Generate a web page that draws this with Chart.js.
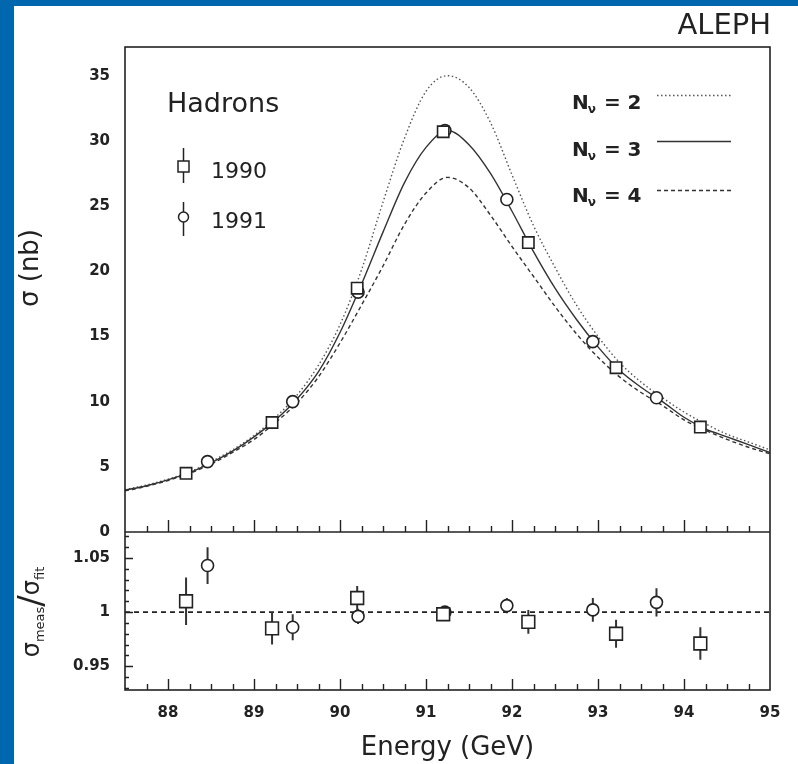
<!DOCTYPE html>
<html>
<head>
<meta charset="utf-8">
<script src="https://cdn.jsdelivr.net/npm/chart.js@4.4.1/dist/chart.umd.min.js"></script>
<style>
  html, body { margin: 0; padding: 0; background: #fff; }
  #wrap { position: relative; width: 798px; height: 764px; overflow: hidden; background: #fff; }
  #chart { position: absolute; left: 0; top: 0; }
  .band { position: absolute; background: #0066ad; }
</style>
</head>
<body>
<div id="wrap">
  <canvas id="chart" width="798" height="764"></canvas>
  <div class="band" style="left:0;top:0;width:798px;height:6px"></div>
  <div class="band" style="left:0;top:0;width:14px;height:764px"></div>
</div>
<script>
// ── Data ──
const xTicks     = [88, 89, 90, 91, 92, 93, 94, 95];
const sigmaTicks = [0, 5, 10, 15, 20, 25, 30, 35];
const ratioTicks = [0.95, 1, 1.05];

// line shapes for N_nu = 2, 3, 4 (nb)
const curveE = [87.5, 87.75, 88, 88.25, 88.5, 88.75, 89, 89.25, 89.5, 89.75, 90, 90.25, 90.5, 90.75, 91, 91.25,
                91.5, 91.75, 92, 92.25, 92.5, 92.75, 93, 93.25, 93.5, 93.75, 94, 94.25, 94.5, 94.75, 95];
const nu2 = [3.25, 3.6, 4.05, 4.6, 5.4, 6.3, 7.4, 8.8, 10.5, 12.8, 15.9, 20.1, 25.3, 30.2, 33.8, 35.0,
             34.1, 31.4, 27.4, 23.5, 20.3, 17.4, 15.0, 13.0, 11.5, 10.3, 9.2, 8.3, 7.5, 6.9, 6.3];
const nu3 = [3.2, 3.55, 4.0, 4.55, 5.3, 6.2, 7.3, 8.6, 10.2, 12.3, 15.3, 19.0, 23.0, 26.8, 29.5, 30.8,
             29.7, 27.5, 24.6, 21.5, 18.7, 16.3, 14.2, 12.4, 11.1, 10.0, 8.8, 7.9, 7.3, 6.7, 6.1];
const nu4 = [3.15, 3.5, 3.95, 4.5, 5.2, 6.1, 7.1, 8.4, 9.9, 11.9, 14.5, 17.4, 20.4, 23.6, 26.0, 27.2,
             26.4, 24.3, 21.9, 19.6, 17.3, 15.2, 13.4, 11.9, 10.7, 9.7, 8.6, 7.8, 7.1, 6.5, 6.0];

// measured points
const e1990     = [88.21, 89.21, 90.20, 91.20, 92.19, 93.21, 94.19];
const sigma1990 = [4.5, 8.4, 18.7, 30.7, 22.2, 12.6, 8.05];
const ratio1990 = [1.010, 0.985, 1.013, 0.998, 0.991, 0.980, 0.971];
const err1990   = [0.022, 0.015, 0.011, 0.003, 0.011, 0.013, 0.015];

const e1991     = [88.46, 89.45, 90.21, 91.22, 91.94, 92.94, 93.68];
const sigma1991 = [5.4, 10.0, 18.4, 30.8, 25.5, 14.6, 10.3];
const ratio1991 = [1.043, 0.986, 0.996, 1.000, 1.006, 1.002, 1.009];
const err1991   = [0.017, 0.012, 0.007, 0.003, 0.007, 0.011, 0.013];

const refE = [87.5, 95];
const refRatio = [1, 1];

// ── helpers ──
const pts  = (xs, ys) => xs.map((x, i) => ({ x, y: ys[i] }));
const bars = (xs, ys, es) => xs.flatMap((x, i) => [
  { x, y: ys[i] - es[i] }, { x, y: ys[i] + es[i] }, { x, y: null },
]);

const INK = '#222';
const FONT = 'DejaVu Sans';

// frame, inside ticks, titles and the two keys
const framePlugin = {
  id: 'frame',
  afterDraw(chart) {
    const { ctx, chartArea: a } = chart;
    const xs = chart.scales.x, ss = chart.scales.sigma, rs = chart.scales.ratio;
    const yMid = ss.getPixelForValue(0);
    ctx.save();
    ctx.strokeStyle = INK;
    ctx.lineWidth = 1.6;
    ctx.strokeRect(a.left, a.top, a.right - a.left, a.bottom - a.top);
    ctx.beginPath(); ctx.moveTo(a.left, yMid); ctx.lineTo(a.right, yMid); ctx.stroke();

    // x ticks (every 0.25 GeV), pointing up from both lower edges
    ctx.lineWidth = 1.4;
    ctx.beginPath();
    for (let k = 1; k < 30; k++) {
      const v = 87.5 + k * 0.25;
      const px = Math.round(xs.getPixelForValue(v)) + 0.5;
      const major = Number.isInteger(v);
      ctx.moveTo(px, yMid);     ctx.lineTo(px, yMid - (major ? 12 : 6));
      ctx.moveTo(px, a.bottom); ctx.lineTo(px, a.bottom - (major ? 11 : 6));
    }
    // ratio ticks (every 0.01), pointing right from the left edge
    for (let k = 93; k <= 107; k++) {
      const py = Math.round(rs.getPixelForValue(k / 100)) + 0.5;
      ctx.moveTo(a.left, py); ctx.lineTo(a.left + (k % 5 === 0 ? 8 : 4), py);
    }
    ctx.stroke();

    ctx.fillStyle = INK;
    ctx.textBaseline = 'middle';

    // ALEPH
    ctx.textAlign = 'right';
    ctx.font = `29px "${FONT}"`;
    ctx.fillText('ALEPH', 771, 26);

    // Hadrons key
    ctx.textAlign = 'left';
    ctx.font = `27px "${FONT}"`;
    ctx.fillText('Hadrons', 167, 105);
    ctx.font = `22px "${FONT}"`;
    ctx.fillText('1990', 211, 172);
    ctx.fillText('1991', 211, 222);
    ctx.lineWidth = 1.5;
    ctx.beginPath();
    ctx.moveTo(183.5, 148); ctx.lineTo(183.5, 183);
    ctx.moveTo(183.5, 202); ctx.lineTo(183.5, 236);
    ctx.stroke();
    ctx.fillStyle = '#fff';
    ctx.fillRect(178, 161, 11, 11);
    ctx.strokeRect(178, 161, 11, 11);
    ctx.beginPath(); ctx.arc(183.5, 217, 5, 0, Math.PI * 2); ctx.fill(); ctx.stroke();

    // N_nu key
    ctx.fillStyle = INK;
    const keys = [
      { n: '2', y: 104, ly: 95,  dash: [1.5, 2.5], color: '#555', w: 1.4 },
      { n: '3', y: 151, ly: 141, dash: [],         color: '#333', w: 1.4 },
      { n: '4', y: 197, ly: 190, dash: [4, 3],     color: '#333', w: 1.4 },
    ];
    keys.forEach((k) => {
      let x = 572;
      ctx.font = `bold 20px "${FONT}"`;
      ctx.fillText('N', x, k.y);
      x += ctx.measureText('N').width;
      ctx.font = `bold 12px "${FONT}"`;
      ctx.fillText('ν', x - 1, k.y + 6);
      x += ctx.measureText('ν').width;
      ctx.font = `bold 20px "${FONT}"`;
      ctx.fillText(' = ' + k.n, x, k.y);
      ctx.save();
      ctx.strokeStyle = k.color; ctx.lineWidth = k.w; ctx.setLineDash(k.dash);
      ctx.beginPath(); ctx.moveTo(657, k.ly + 0.5); ctx.lineTo(731, k.ly + 0.5); ctx.stroke();
      ctx.restore();
    });

    // y title, upper panel
    ctx.save();
    ctx.translate(31, 268);
    ctx.rotate(-Math.PI / 2);
    ctx.textAlign = 'center';
    ctx.font = `26px "${FONT}"`;
    ctx.fillText('σ (nb)', 0, 0);
    ctx.restore();

    // y title, ratio panel: σ_meas / σ_fit
    ctx.save();
    ctx.translate(33, 612);
    ctx.rotate(-Math.PI / 2);
    ctx.textAlign = 'left';
    const parts = [
      { t: 'σ', f: `24px "${FONT}"`, dy: 0 },
      { t: 'meas', f: `13px "${FONT}"`, dy: 8 },
      { t: '/', f: `34px "${FONT}"`, dy: 0 },
      { t: 'σ', f: `24px "${FONT}"`, dy: 0 },
      { t: 'fit', f: `13px "${FONT}"`, dy: 8 },
    ];
    let total = 0;
    parts.forEach((p) => { ctx.font = p.f; p.w = ctx.measureText(p.t).width; total += p.w; });
    let tx = -total / 2;
    parts.forEach((p) => { ctx.font = p.f; ctx.fillText(p.t, tx, p.dy); tx += p.w; });
    ctx.restore();

    ctx.restore();
  },
};

const marker = (style, r) => ({
  showLine: false, pointStyle: style, pointRadius: r,
  pointBackgroundColor: '#fff', pointBorderColor: INK, pointBorderWidth: 1.6,
});
const errLine = { pointRadius: 0, borderColor: '#333', borderWidth: 2, spanGaps: false };

new Chart(document.getElementById('chart'), {
  type: 'line',
  data: {
    datasets: [
      { data: pts(e1990, ratio1990), yAxisID: 'ratio', ...marker('rect', 9) },
      { data: pts(e1991, ratio1991), yAxisID: 'ratio', ...marker('circle', 6) },
      { data: pts(e1990, sigma1990), yAxisID: 'sigma', ...marker('rect', 8) },
      { data: pts(e1991, sigma1991), yAxisID: 'sigma', ...marker('circle', 6) },
      { data: bars(e1990, ratio1990, err1990), yAxisID: 'ratio', ...errLine },
      { data: bars(e1991, ratio1991, err1991), yAxisID: 'ratio', ...errLine },
      { data: pts(refE, refRatio), yAxisID: 'ratio', pointRadius: 0, borderColor: INK, borderWidth: 1.6, borderDash: [5, 4] },
      { data: pts(curveE, nu3), yAxisID: 'sigma', pointRadius: 0, borderColor: '#333', borderWidth: 1.4, cubicInterpolationMode: 'monotone' },
      { data: pts(curveE, nu2), yAxisID: 'sigma', pointRadius: 0, borderColor: '#555', borderWidth: 1.4, borderDash: [1.5, 2.5], cubicInterpolationMode: 'monotone' },
      { data: pts(curveE, nu4), yAxisID: 'sigma', pointRadius: 0, borderColor: '#333', borderWidth: 1.4, borderDash: [4, 3], cubicInterpolationMode: 'monotone' },
    ],
  },
  options: {
    responsive: false,
    animation: false,
    devicePixelRatio: 1,
    events: [],
    layout: { padding: { top: 47, right: 28, left: 0, bottom: 0 } },
    plugins: { legend: { display: false }, tooltip: { enabled: false } },
    scales: {
      x: {
        type: 'linear', min: 87.5, max: 95,
        afterBuildTicks: (s) => { s.ticks = xTicks.map((v) => ({ value: v })); },
        afterFit: (s) => { s.height = 74; },
        grid: { display: false, drawTicks: false },
        border: { display: false },
        ticks: { padding: 14, color: INK, font: { family: FONT, size: 15, weight: 'bold' }, callback: (v) => String(v) },
        title: { display: true, text: 'Energy (GeV)', color: INK, font: { family: FONT, size: 26 }, padding: { top: 4, bottom: 0 } },
      },
      ratio: {
        type: 'linear', position: 'left', stack: 'panels', stackWeight: 158,
        min: 0.928, max: 1.074,
        afterBuildTicks: (s) => { s.ticks = ratioTicks.map((v) => ({ value: v })); },
        afterFit: (s) => { s.width = 125; },
        grid: { display: false, drawTicks: false },
        border: { display: false },
        ticks: { padding: 15, color: INK, font: { family: FONT, size: 15, weight: 'bold' }, callback: (v) => String(v) },
      },
      sigma: {
        type: 'linear', position: 'left', stack: 'panels', stackWeight: 485,
        min: 0, max: 37.2,
        afterBuildTicks: (s) => { s.ticks = sigmaTicks.map((v) => ({ value: v })); },
        afterFit: (s) => { s.width = 125; },
        grid: { display: false, drawTicks: false },
        border: { display: false },
        ticks: { padding: 15, color: INK, font: { family: FONT, size: 15, weight: 'bold' }, callback: (v) => String(v) },
      },
    },
  },
  plugins: [framePlugin],
});
</script>
</body>
</html>
